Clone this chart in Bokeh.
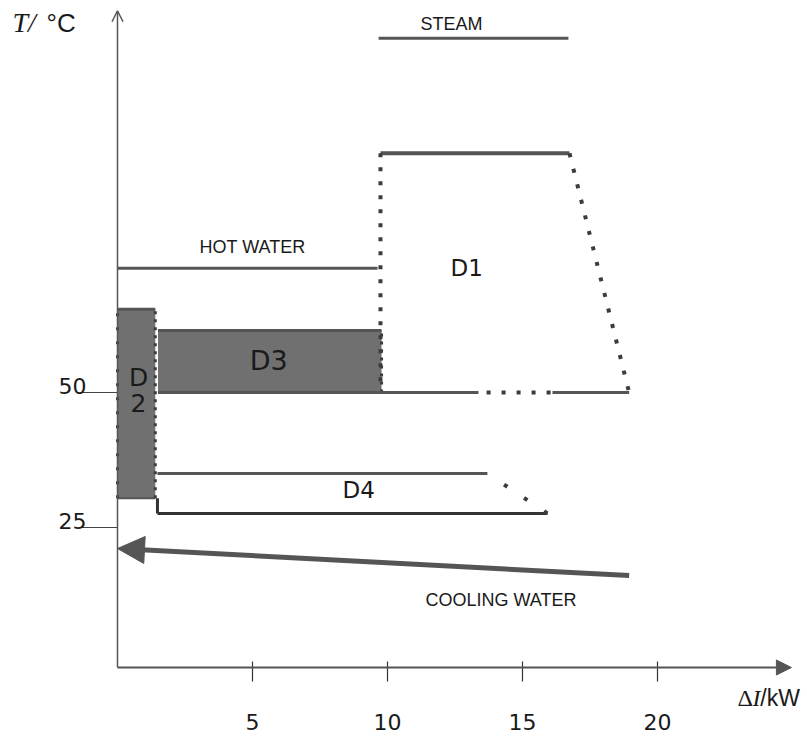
from bokeh.plotting import figure
from bokeh.models import Range1d, LinearAxis, FixedTicker, Arrow, NormalHead, OpenHead
from bokeh.core.properties import value
from bokeh.embed import file_html
from bokeh.resources import INLINE

# ---- data ----
x_ticks = [5, 10, 15, 20]
y_ticks = [25, 50]
x_axis_y = -0.93          # where the T axis meets the ΔI axis
x_axis_end = 24.96
y_axis_end = 120.7

steam_x = [9.67, 16.7]
steam_y = [115.6, 115.6]

d1_top_x = [9.74, 16.74]
d1_top_y = [94.3, 94.3]
d1_left_x = [9.74, 9.74]
d1_left_y = [94.3, 50.0]
d1_diag_x = [16.74, 18.95]
d1_diag_y = [94.3, 50.0]
d1_base1_x = [9.74, 13.37]
d1_base_dot_x = [13.67, 16.04]
d1_base2_x = [16.11, 18.95]
base_y = [50.0, 50.0]

hot_x = [0.0, 9.63]
hot_y = [73.0, 73.0]

d2_left, d2_right, d2_bottom, d2_top = 0.0, 1.4, 30.4, 65.4
d3_left, d3_right, d3_bottom, d3_top = 1.5, 9.78, 50.0, 61.5

d4_top_x = [1.48, 13.7]
d4_top_y = [35.0, 35.0]
d4_bot_x = [1.48, 15.93]
d4_bot_y = [27.6, 27.6]
d4_diag_x = [13.7, 15.93]
d4_diag_y = [35.0, 27.6]
d4_side_x = [1.48, 1.48]
d4_side_y = [30.4, 27.6]

cool_x = [18.95, 0.0]
cool_y = [16.1, 21.1]

# (text, x, y, font, size, style)
labels = [
    ("STEAM", 12.37, 118.3, "Liberation Sans", 18, "normal"),
    ("HOT WATER", 5.0, 77.0, "Liberation Sans", 18, "normal"),
    ("COOLING WATER", 14.2, 11.5, "Liberation Sans", 18, "normal"),
    ("D1", 12.93, 73.0, "DejaVu Sans", 23, "normal"),
    ("D3", 5.6, 55.9, "DejaVu Sans", 27, "normal"),
    ("D4", 8.93, 32.0, "DejaVu Sans", 23, "normal"),
    ("D", 0.78, 52.8, "DejaVu Sans", 25, "normal"),
    ("2", 0.78, 48.0, "DejaVu Sans", 25, "normal"),
]
# axis titles, left aligned pieces
titles = [
    ("T/", -3.89, 118.5, "Liberation Serif", 28, "italic"),
    ("°C", -2.63, 118.5, "Liberation Sans", 26, "normal"),
    ("Δ", 22.96, -6.5, "Liberation Serif", 24, "normal"),
    ("I", 23.52, -6.5, "Liberation Serif", 24, "italic"),
    ("/kW", 23.81, -6.5, "Liberation Sans", 23, "normal"),
]

LINE = "#555555"
FILL = "#707070"
DARK = "#3c3c3c"

p = figure(width=807, height=737, x_range=Range1d(-117 / 27, 690 / 27),
           y_range=Range1d(-75 / 5.4, 662 / 5.4),
           output_backend="svg", toolbar_location=None,
           x_axis_type=None, y_axis_type=None,
           min_border=0)
p.outline_line_color = None
p.xgrid.visible = False
p.ygrid.visible = False
p.background_fill_color = "white"
p.border_fill_color = "white"

xa = LinearAxis(ticker=FixedTicker(ticks=x_ticks), fixed_location=x_axis_y, axis_line_color=None,
                major_tick_in=6, major_tick_out=14, minor_tick_line_color=None,
                major_tick_line_color="#333333", major_tick_line_width=1.2,
                major_label_standoff=32, major_label_text_font="DejaVu Sans",
                major_label_text_font_size="22px", major_label_text_color="#1a1a1a")
p.add_layout(xa, "below")

label_pos = [t + 1.2 for t in y_ticks]
ya = LinearAxis(ticker=FixedTicker(ticks=label_pos, minor_ticks=y_ticks), fixed_location=0,
                axis_line_color=None,
                major_tick_in=0, major_tick_out=0, major_tick_line_color=None,
                minor_tick_in=0, minor_tick_out=38, minor_tick_line_color="#444444",
                minor_tick_line_width=1.2,
                major_label_overrides={lp: str(t) for lp, t in zip(label_pos, y_ticks)},
                major_label_standoff=-7, major_label_text_font="DejaVu Sans",
                major_label_text_font_size="22px", major_label_text_color="#1a1a1a")
p.add_layout(ya, "left")

# axis lines with arrow heads
p.add_layout(Arrow(x_start=0, y_start=x_axis_y, x_end=x_axis_end, y_end=x_axis_y,
                   line_color=LINE, line_width=2,
                   end=NormalHead(size=15, fill_color=LINE, line_color=LINE)))
p.add_layout(Arrow(x_start=0, y_start=x_axis_y, x_end=0, y_end=y_axis_end,
                   line_color=LINE, line_width=1.5,
                   end=OpenHead(size=11, line_color=LINE, line_width=1.5)))

# shaded regions D2, D3
p.quad(left=[d2_left], right=[d2_right], bottom=[d2_bottom], top=[d2_top],
       fill_color=FILL, line_color=None)
p.quad(left=[d3_left], right=[d3_right], bottom=[d3_bottom], top=[d3_top],
       fill_color=FILL, line_color=None)
p.line([d2_left, d2_right], [d2_top, d2_top], line_color=LINE, line_width=3)
p.line([d2_left, d2_right], [d2_bottom, d2_bottom], line_color=LINE, line_width=2)
p.line([d2_left, d2_left], [d2_bottom, d2_top], line_color=DARK, line_width=3, line_dash="3 11")
p.line([d2_right, d2_right], [d2_bottom, d2_top], line_color=DARK, line_width=3, line_dash="3 5")
p.line([d3_left, d3_right], [d3_top, d3_top], line_color=LINE, line_width=3)
p.line([d3_right, d3_right], [d3_bottom, d3_top], line_color=DARK, line_width=3, line_dash="3 5")

# steam, hot water
p.line(steam_x, steam_y, line_color=LINE, line_width=3)
p.line(hot_x, hot_y, line_color=LINE, line_width=3)

# D1
p.line(d1_top_x, d1_top_y, line_color=LINE, line_width=4)
p.line(d1_left_x, d1_left_y, line_color=DARK, line_width=4, line_dash="4 10")
p.line(d1_diag_x, d1_diag_y, line_color=DARK, line_width=4, line_dash="4 12")
p.line([d3_left, d1_base1_x[1]], base_y, line_color=LINE, line_width=3)
p.line(d1_base_dot_x, base_y, line_color=DARK, line_width=4, line_dash="4 11")
p.line(d1_base2_x, base_y, line_color=LINE, line_width=3)

# D4
p.line(d4_top_x, d4_top_y, line_color=LINE, line_width=3)
p.line(d4_bot_x, d4_bot_y, line_color="#333333", line_width=3)
p.line(d4_side_x, d4_side_y, line_color="#333333", line_width=3)
p.line(d4_diag_x, d4_diag_y, line_color=DARK, line_width=4, line_dash="4 20", line_dash_offset=4)

# cooling water
p.add_layout(Arrow(x_start=cool_x[0], y_start=cool_y[0], x_end=cool_x[1], y_end=cool_y[1],
                   line_color=LINE, line_width=5,
                   end=NormalHead(size=27, fill_color=LINE, line_color=LINE)))

for txt, x, y, font, fs, style in labels:
    p.text(x=[x], y=[y], text=[txt], text_font=value(font), text_font_style=style,
           text_font_size=f"{fs}px", text_align="center", text_baseline="middle",
           text_color="#1a1a1a")
for txt, x, y, font, fs, style in titles:
    p.text(x=[x], y=[y], text=[txt], text_font=value(font), text_font_style=style,
           text_font_size=f"{fs}px", text_align="left", text_baseline="middle",
           text_color="#1a1a1a")

open("out.html", "w").write(file_html(p, INLINE))
